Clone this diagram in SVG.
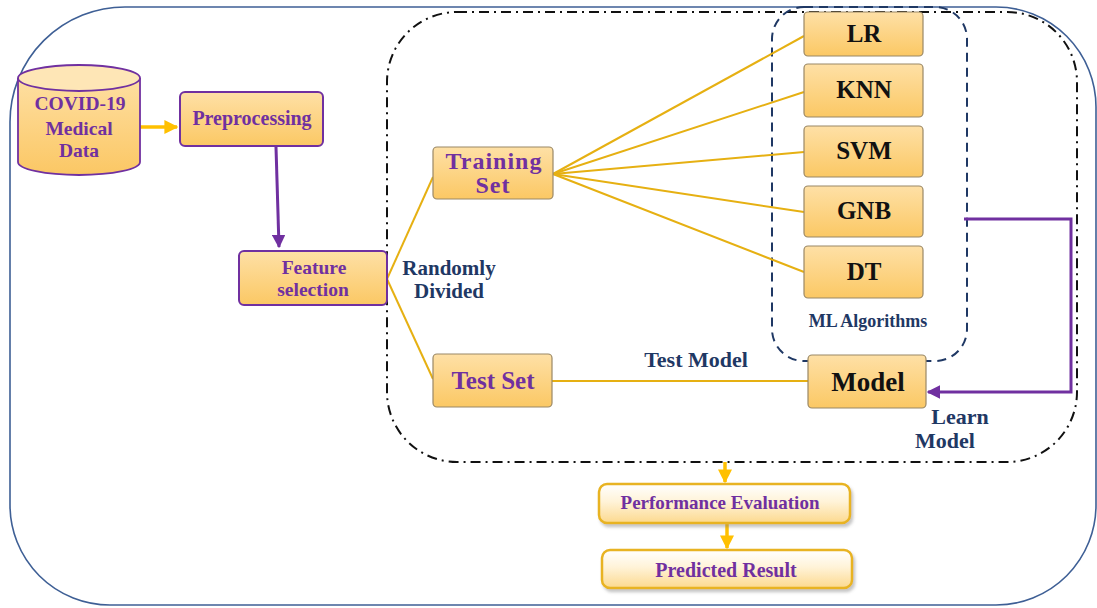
<svg xmlns="http://www.w3.org/2000/svg" width="1097" height="608" viewBox="0 0 1097 608">
<defs>
<linearGradient id="gBox" x1="0" y1="0" x2="0" y2="1">
<stop offset="0" stop-color="#FEE0A6"/>
<stop offset="1" stop-color="#FBC864"/>
</linearGradient>
<linearGradient id="gLight" x1="0" y1="0" x2="0" y2="1">
<stop offset="0" stop-color="#FFFFFF"/>
<stop offset="0.45" stop-color="#FFF3D8"/>
<stop offset="1" stop-color="#FCD98E"/>
</linearGradient>
<linearGradient id="gCyl" x1="0" y1="0" x2="0" y2="1">
<stop offset="0" stop-color="#FEDFA2"/>
<stop offset="1" stop-color="#FBC764"/>
</linearGradient>
<filter id="shadow" x="-10%" y="-20%" width="125%" height="150%">
<feDropShadow dx="2" dy="3" stdDeviation="1.5" flood-color="#808080" flood-opacity="0.45"/>
</filter>
<marker id="aOrange" viewBox="0 0 10 10" refX="9" refY="5" markerWidth="4" markerHeight="4" orient="auto" markerUnits="strokeWidth">
<path d="M0,0 L10,5 L0,10 z" fill="#FFC000"/>
</marker>
<marker id="aPurple" viewBox="0 0 10 10" refX="9" refY="5" markerWidth="4.5" markerHeight="4.5" orient="auto" markerUnits="strokeWidth">
<path d="M0,0 L10,5 L0,10 z" fill="#7030A0"/>
</marker>
</defs>
<style>
text{font-family:"Liberation Serif","Times New Roman",serif;font-weight:bold;text-anchor:middle}
.pur{fill:#7030A0}
.navy{fill:#1F3864}
.blk{fill:#111111}
.box{fill:url(#gBox);stroke:#9A8866;stroke-width:1.2}
.pbox{fill:url(#gBox);stroke:#7030A0;stroke-width:2}
.lbox{fill:url(#gLight);stroke:#E8B320;stroke-width:2.5;filter:url(#shadow)}
.gold{stroke:#E6B012;stroke-width:2;fill:none}
.oarr{stroke:#FFC000;stroke-width:3.5;fill:none;marker-end:url(#aOrange)}
.parr{stroke:#7030A0;stroke-width:3;fill:none;marker-end:url(#aPurple)}
</style>
<rect width="1097" height="608" fill="#FFFFFF"/>
<g id="containers">
<path d="M10,122 A115,115 0 0 1 125,7 L996,7 A100,100 0 0 1 1096,107 L1096,505 A100,100 0 0 1 996,605 L110,605 A100,100 0 0 1 10,505 Z" fill="none" stroke="#3E5F95" stroke-width="1.6"/>
<rect id="dashdot" x="387" y="12" width="690" height="450" rx="70" ry="70" fill="none" stroke="#111" stroke-width="2" stroke-dasharray="10,5,2,5"/>
<rect id="mlgroup" x="772" y="7" width="195" height="354" rx="32" ry="32" fill="none" stroke="#1F3864" stroke-width="2" stroke-dasharray="9,6"/>
</g>
<g id="connectors">
<path class="gold" d="M387,279 L433,177"/>
<path class="gold" d="M387,279 L433,379"/>
<path class="gold" d="M553,174 L804,36"/>
<path class="gold" d="M553,174 L804,92"/>
<path class="gold" d="M553,174 L804,152"/>
<path class="gold" d="M553,174 L804,212"/>
<path class="gold" d="M553,174 L804,272"/>
<path class="gold" d="M552,381 L808,381"/>
<path class="oarr" d="M140,127 L177,127"/>
<path class="parr" d="M276,147 L279,247"/>
<path class="parr" d="M964,219 L1071,219 L1071,392 L928,392"/>
<path class="oarr" d="M725,462 L725,482"/>
<path class="oarr" d="M727,523 L727,548"/>
</g>
<g id="covid">
<path d="M18,78 L18,162 A61,13 0 0 0 140,162 L140,78" fill="url(#gCyl)" stroke="#7030A0" stroke-width="1.8"/>
<ellipse cx="79" cy="78" rx="61" ry="13" fill="#FEE6B6" stroke="#7030A0" stroke-width="1.8"/>
<text class="pur" x="80" y="110" font-size="19.5">COVID-19</text>
<text class="pur" x="79" y="135" font-size="19.5">Medical</text>
<text class="pur" x="79" y="157" font-size="19.5">Data</text>
</g>
<g id="preprocessing">
<rect class="pbox" x="180" y="92" width="143" height="54" rx="5"/>
<text class="pur" x="252" y="125" font-size="20">Preprocessing</text>
</g>
<g id="feature">
<rect class="pbox" x="239" y="251" width="148" height="54" rx="5"/>
<text class="pur" x="314" y="274" font-size="19.5">Feature</text>
<text class="pur" x="313" y="296" font-size="19.5">selection</text>
</g>
<g id="randomly">
<text class="navy" x="449" y="275" font-size="21">Randomly</text>
<text class="navy" x="449" y="298" font-size="21">Divided</text>
</g>
<g id="training">
<rect class="box" x="433" y="147" width="120" height="52" rx="4"/>
<text class="pur" x="494" y="169" font-size="24" letter-spacing="1">Training</text>
<text class="pur" x="493" y="193" font-size="24" letter-spacing="1">Set</text>
</g>
<g id="testset">
<rect class="box" x="433" y="354" width="119" height="53" rx="4"/>
<text class="pur" x="493" y="389" font-size="25">Test Set</text>
</g>
<g id="lr">
<rect class="box" x="804" y="12" width="119" height="44" rx="4"/>
<text class="blk" x="864" y="42" font-size="25">LR</text>
</g>
<g id="knn">
<rect class="box" x="804" y="64" width="119" height="53" rx="4"/>
<text class="blk" x="864" y="98" font-size="25">KNN</text>
</g>
<g id="svm">
<rect class="box" x="804" y="126" width="119" height="51" rx="4"/>
<text class="blk" x="864" y="159" font-size="25">SVM</text>
</g>
<g id="gnb">
<rect class="box" x="804" y="186" width="119" height="51" rx="4"/>
<text class="blk" x="864" y="219" font-size="25">GNB</text>
</g>
<g id="dt">
<rect class="box" x="804" y="246" width="119" height="52" rx="4"/>
<text class="blk" x="864" y="280" font-size="25">DT</text>
</g>
<g id="mllabel">
<text class="navy" x="868" y="327" font-size="18">ML Algorithms</text>
</g>
<g id="model">
<rect class="box" x="808" y="355" width="118" height="53" rx="4"/>
<text class="blk" x="868" y="391" font-size="27">Model</text>
</g>
<g id="testmodel">
<text class="navy" x="696" y="367" font-size="22">Test Model</text>
</g>
<g id="learnmodel">
<text class="navy" x="960" y="424" font-size="22">Learn</text>
<text class="navy" x="945" y="448" font-size="22">Model</text>
</g>
<g id="performance">
<rect class="lbox" x="599" y="484" width="251" height="39" rx="8"/>
<text class="pur" x="720" y="509" font-size="19">Performance Evaluation</text>
</g>
<g id="predicted">
<rect class="lbox" x="602" y="550" width="250" height="38" rx="8"/>
<text class="pur" x="726" y="577" font-size="20">Predicted Result</text>
</g>
</svg>
